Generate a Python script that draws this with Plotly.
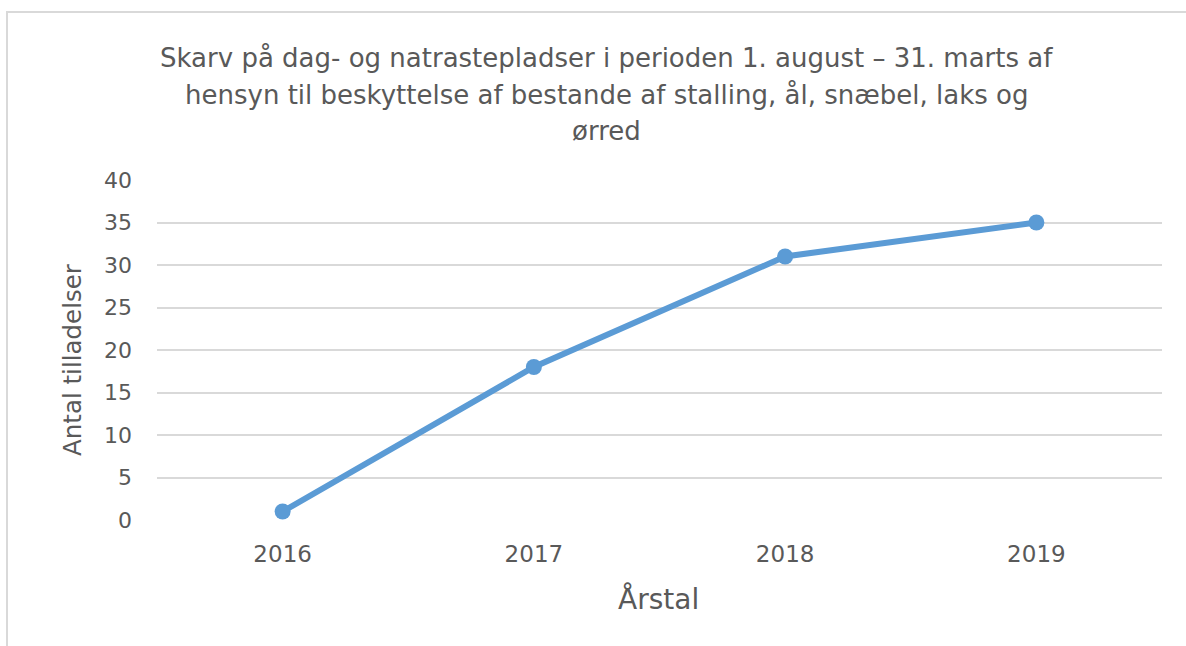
import plotly.graph_objects as go

years = ["2016", "2017", "2018", "2019"]
permits = [1, 18, 31, 35]
y_ticks = [0, 5, 10, 15, 20, 25, 30, 35, 40]

title_lines = [
    "Skarv på dag- og natrastepladser i perioden 1. august – 31. marts af",
    "hensyn til beskyttelse af bestande af stalling, ål, snæbel, laks og",
    "ørred",
]
title_line_y = [58, 95, 131]

FONT = "DejaVu Sans"
GREY = "#595959"

fig = go.Figure()
fig.add_trace(go.Scatter(
    x=years, y=permits, mode="lines+markers",
    line=dict(color="#5b9bd5", width=6),
    marker=dict(color="#5b9bd5", size=16),
    showlegend=False, hoverinfo="x+y",
))

L, R, T, B = 157, 24, 180, 126
W, H = 1186, 646
pw = W - L - R
ph = H - T - B

def px(x):
    return (x - L) / pw

def py(y):
    return (H - B - y) / ph

annotations = []
for line, yy in zip(title_lines, title_line_y):
    annotations.append(dict(
        text=line, xref="paper", yref="paper",
        x=px(606), y=py(yy), xanchor="center", yanchor="middle",
        showarrow=False, font=dict(size=26, color=GREY, family=FONT)))
annotations += [
    dict(text="Antal tilladelser", xref="paper", yref="paper",
         x=px(72), y=py(360), xanchor="center", yanchor="middle",
         textangle=-90, showarrow=False,
         font=dict(size=24.5, color=GREY, family=FONT)),
    dict(text="Årstal", xref="paper", yref="paper",
         x=px(658), y=py(599), xanchor="center", yanchor="middle",
         showarrow=False,
         font=dict(size=28, color=GREY, family=FONT)),
]

fig.update_layout(
    width=W, height=H,
    margin=dict(l=L, r=R, t=T, b=B),
    paper_bgcolor="white", plot_bgcolor="white",
    font=dict(family=FONT, color=GREY),
    xaxis=dict(
        type="category", range=[-0.5, 3.5],
        showgrid=False, zeroline=False, showline=False,
        tickfont=dict(size=23, color=GREY, family=FONT),
        ticks="", ticklabelstandoff=18,
    ),
    yaxis=dict(
        range=[0, 40], tickvals=y_ticks,
        showgrid=True, gridcolor="#d9d9d9", gridwidth=1.5,
        zeroline=False, showline=False,
        tickfont=dict(size=22, color=GREY, family=FONT),
        ticks="", ticklabelstandoff=24,
    ),
    shapes=[dict(
        type="rect", xref="paper", yref="paper",
        x0=px(7), x1=px(1195), y0=py(655), y1=py(12),
        line=dict(color="#d9d9d9", width=2), fillcolor="rgba(0,0,0,0)",
        layer="below",
    )],
    annotations=annotations,
)

fig.write_html("out.html", config={"displayModeBar": False},
               post_script="document.body.style.margin='0';")
